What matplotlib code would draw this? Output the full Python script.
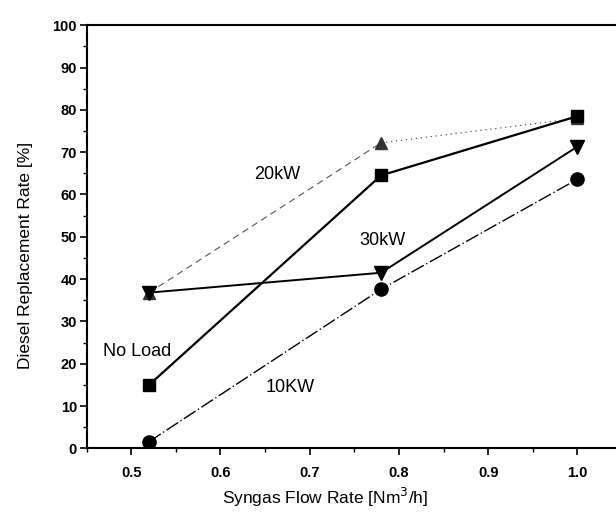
import matplotlib
matplotlib.use("Agg")
import matplotlib.pyplot as plt
from matplotlib.ticker import MultipleLocator

plt.rcParams['font.family'] = ['Liberation Sans', 'DejaVu Sans']

flow = [0.52, 0.78, 1.0]
no_load = [15.0, 64.5, 78.5]
kw20 = [36.8, 72.2, 78.0]
kw30 = [36.8, 41.5, 71.3]
kw10 = [1.6, 37.6, 63.6]

labels = ["No Load", "20kW", "30kW", "10KW"]
label_pos = [(0.506, 22.8), (0.664, 64.6), (0.781, 49.2), (0.678, 14.3)]

fig = plt.figure(figsize=(6.16, 5.25), dpi=100)
ax = fig.add_axes([0.1407, 0.146, 0.869, 0.806])

ms = 8.5
# 20kW: dashed then dotted
ax.plot(flow[:2], kw20[:2], color='#555555', lw=0.8, ls=(0, (6, 4)))
ax.plot(flow[1:], kw20[1:], color='#555555', lw=0.9, ls=(0, (1, 3)))
ax.plot(flow, kw20, ls='none', marker='^', ms=ms, color='#333333')
# No Load
ax.plot(flow, no_load, color='black', lw=1.6, marker='s', ms=ms)
# 30kW
ax.plot(flow, kw30, color='black', lw=1.4, marker='v', ms=ms + 1)
# 10kW
ax.plot(flow, kw10, color='black', lw=1.0, ls=(0, (10, 2, 1, 2)), marker='o', ms=ms + 1)

for t, (x, y) in zip(labels, label_pos):
    ax.text(x, y, t, ha='center', va='center', fontsize=13, color='black')

ax.set_xlim(0.45, 1.05)
ax.set_ylim(0, 100)
ax.xaxis.set_major_locator(MultipleLocator(0.1))
ax.xaxis.set_minor_locator(MultipleLocator(0.05))
ax.yaxis.set_major_locator(MultipleLocator(10))
ax.yaxis.set_minor_locator(MultipleLocator(5))
ax.set_xticks([0.5, 0.6, 0.7, 0.8, 0.9, 1.0])
ax.set_xticklabels(['0.5', '0.6', '0.7', '0.8', '0.9', '1.0'])
ax.tick_params(which='major', direction='out', length=5, width=1.2, labelsize=10.5)
ax.tick_params(which='minor', direction='out', length=3, width=1.0)
for lab in ax.get_xticklabels() + ax.get_yticklabels():
    lab.set_fontweight('bold')
ax.tick_params(axis='x', pad=8)
ax.tick_params(axis='y', pad=2)

for s in ['left', 'bottom', 'top']:
    ax.spines[s].set_linewidth(1.5)
ax.spines['right'].set_visible(False)

ax.set_xlabel('Syngas Flow Rate [Nm$^3$/h]', fontsize=12.5)
ax.set_ylabel('Diesel Replacement Rate [%]', fontsize=12.5)
ax.xaxis.set_label_coords(0.445, -0.088)
ax.yaxis.set_label_coords(-0.100, 0.456)

fig.savefig('out.png', dpi=100)
